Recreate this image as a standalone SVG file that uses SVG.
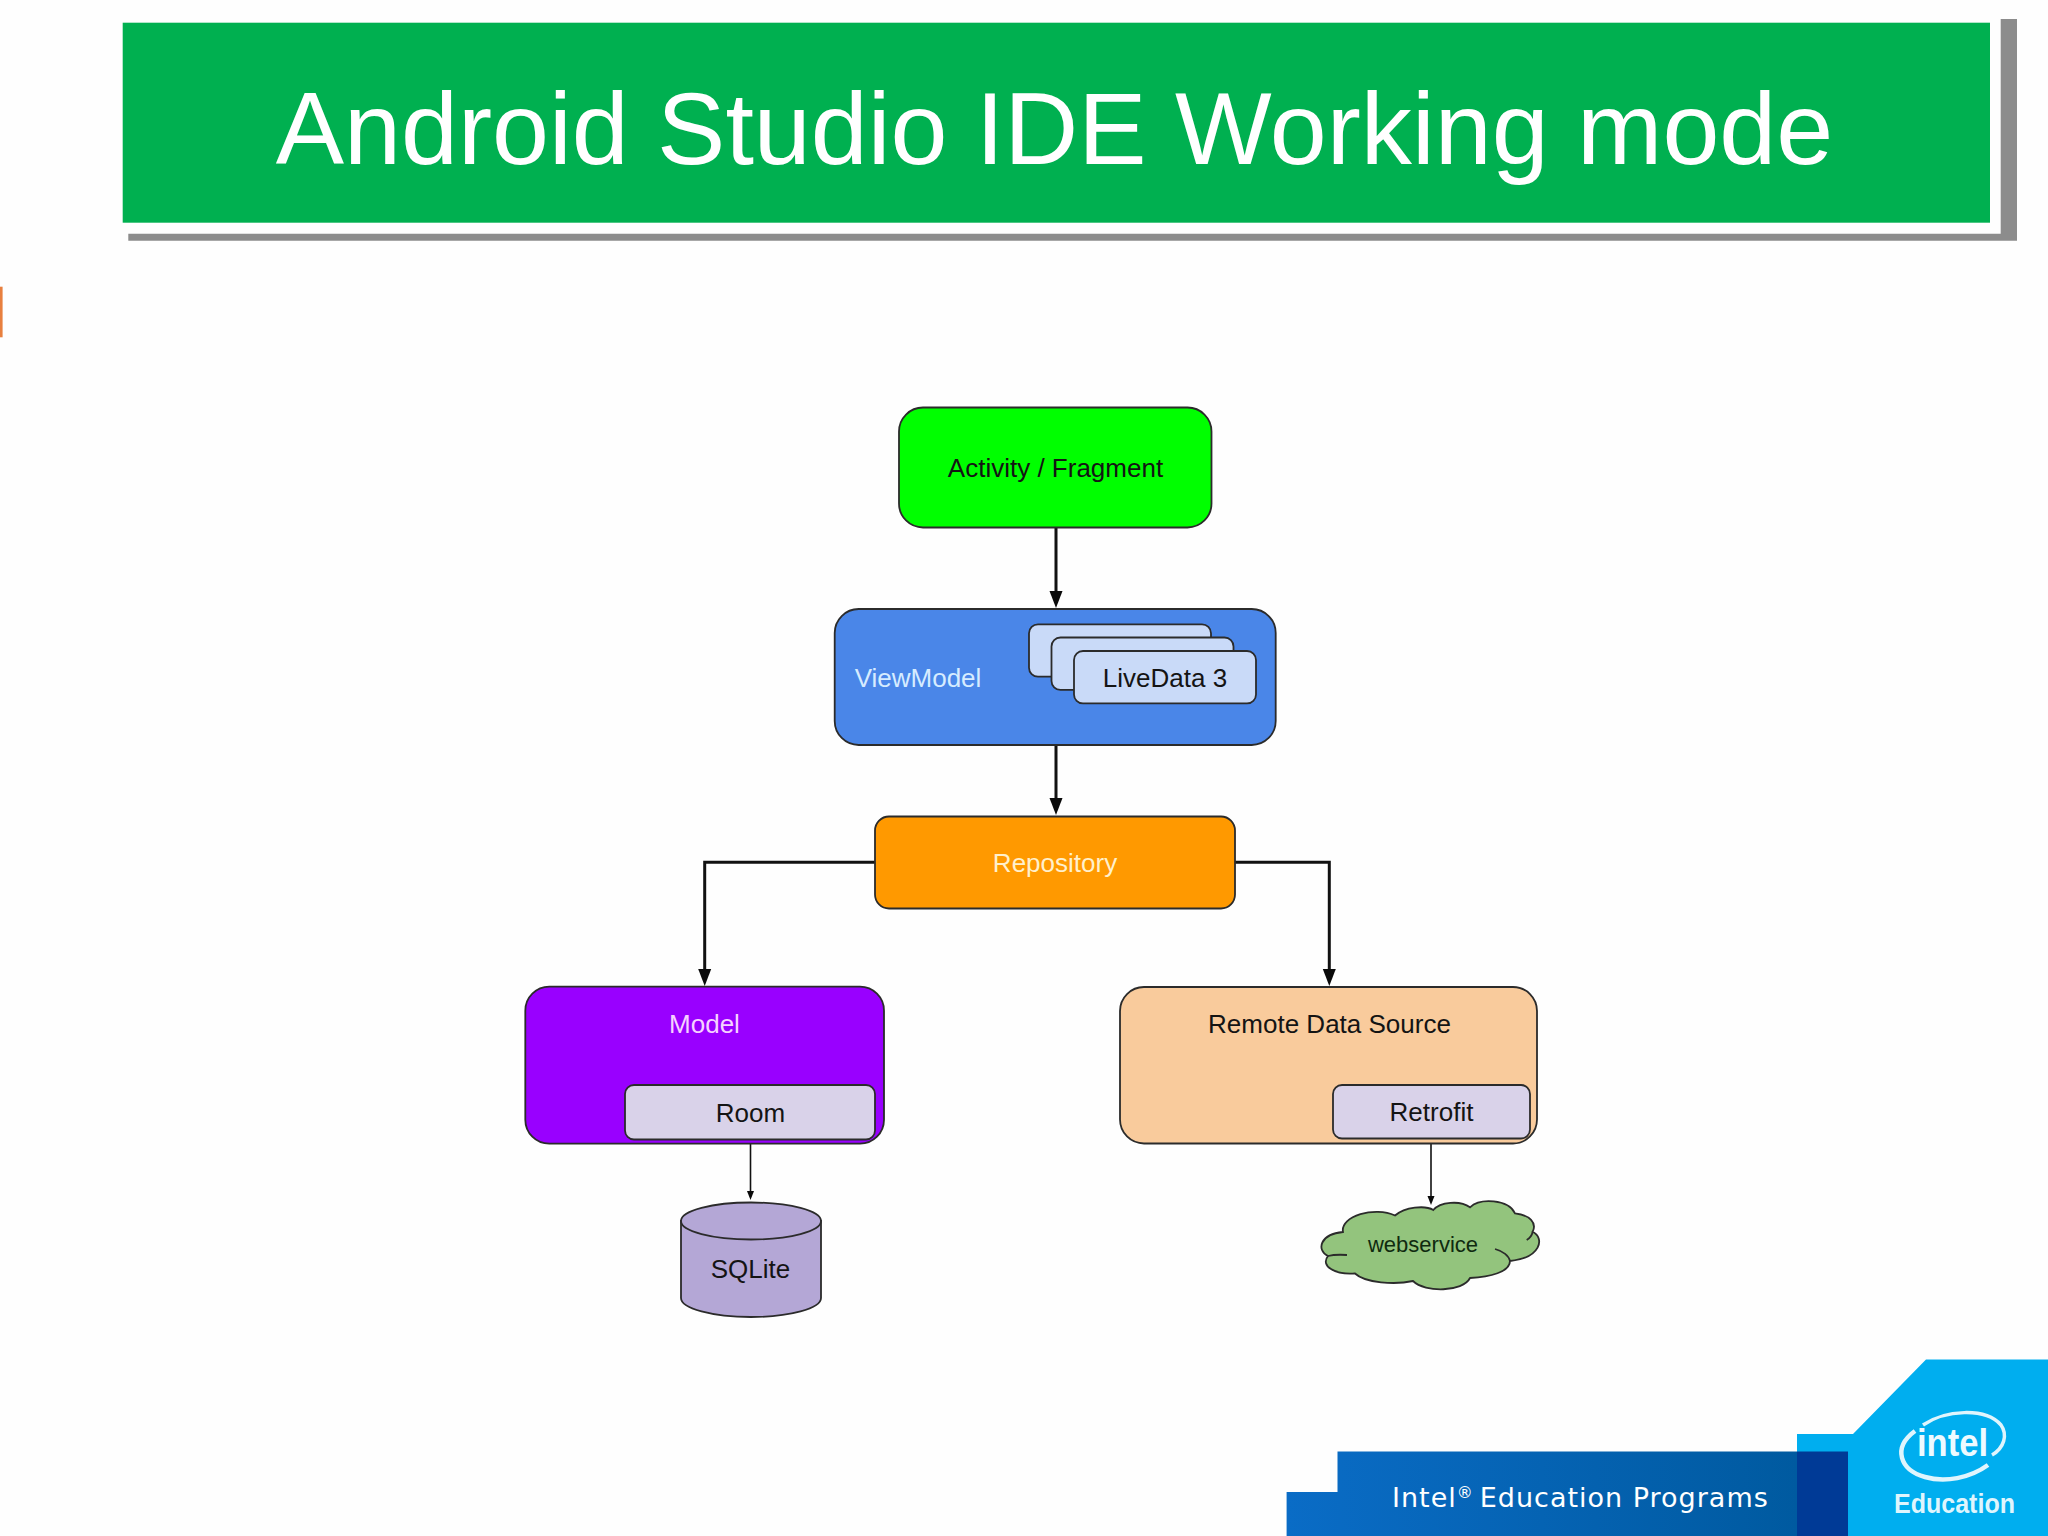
<svg xmlns="http://www.w3.org/2000/svg" width="2048" height="1536" viewBox="0 0 2048 1536">
  <style>
    .t { font-family: "Liberation Sans", Arial, sans-serif; font-size: 26px; text-anchor: middle; fill: #141414; }
    .box { stroke: #2b2b2b; stroke-width: 1.800; }
    .conn { fill: none; stroke: #111; stroke-width: 3; }
    .thin { fill: none; stroke: #111; stroke-width: 1.600; }
  </style>
  <defs>
    <marker id="big" markerUnits="userSpaceOnUse" markerWidth="17" markerHeight="14" refX="9" refY="7" orient="auto">
      <path d="M0 .5L17 7L0 13.500Z" fill="#0a0a0a"/>
    </marker>
    <marker id="small" markerUnits="userSpaceOnUse" markerWidth="9" markerHeight="8" refX="5" refY="4" orient="auto">
      <path d="M0 .5L9 4L0 7.500Z" fill="#0a0a0a"/>
    </marker>
    <linearGradient id="band" x1="0" x2="1" y1="0" y2="0">
      <stop offset="0" stop-color="#0a6cc6"/>
      <stop offset="1" stop-color="#005aa0"/>
    </linearGradient>
  </defs>
  <rect width="2048" height="1536" fill="#fefefe"/>

  <g id="title-bar">
    <path d="M2000.700 19H2017V240.700H128.300V233.800H2000.700Z" fill="#8c8c8c"/>
    <rect x="122.700" y="22.700" width="1867.300" height="200" fill="#00b050"/>
    <text x="1054.500" y="164" font-family="'Liberation Sans', Arial, sans-serif" font-size="102.400" text-anchor="middle" fill="#fff">Android Studio IDE Working mode</text>
  </g>
  <rect id="edge-mark" x="0" y="286.700" width="2.600" height="50.600" fill="#e8803f"/>

  <g id="connectors">
    <path class="conn" d="M1056 527V600" marker-end="url(#big)"/>
    <path class="conn" d="M1056 745V807" marker-end="url(#big)"/>
    <path class="conn" d="M875 862.300H704.700V978" marker-end="url(#big)"/>
    <path class="conn" d="M1235 862.300H1329.300V978" marker-end="url(#big)"/>
    <path class="thin" d="M750.500 1140V1196" marker-end="url(#small)"/>
    <path class="thin" d="M1431 1139V1201" marker-end="url(#small)"/>
  </g>

  <g id="activity">
    <rect class="box" x="899" y="407.500" width="312.500" height="120" rx="24" fill="#00ff00"/>
    <text class="t" x="1055.500" y="477">Activity / Fragment</text>
  </g>
  <g id="viewmodel">
    <rect class="box" x="834.700" y="609" width="441" height="136" rx="24" fill="#4a86e8"/>
    <text class="t" x="918" y="686.700" style="fill:#d6ecff">ViewModel</text>
    <rect class="box" x="1029" y="624.300" width="182" height="52.400" rx="9" fill="#c9daf8"/>
    <rect class="box" x="1051.500" y="637.500" width="182" height="52.400" rx="9" fill="#c9daf8"/>
    <rect class="box" x="1074" y="651" width="182" height="52.400" rx="9" fill="#c9daf8"/>
    <text class="t" x="1165" y="686.700">LiveData 3</text>
  </g>
  <g id="repository">
    <rect class="box" x="875" y="816.500" width="360" height="92" rx="14" fill="#ff9900"/>
    <text class="t" x="1055" y="872.300" style="fill:#fff0cc">Repository</text>
  </g>
  <g id="model">
    <rect class="box" x="525.300" y="986.700" width="358.700" height="157" rx="24" fill="#9900ff"/>
    <text class="t" x="704.500" y="1032.700" style="fill:#f6d2ff">Model</text>
    <rect class="box" x="625" y="1085" width="250" height="54.500" rx="9" fill="#d9d2e9"/>
    <text class="t" x="750.500" y="1122">Room</text>
  </g>
  <g id="remote">
    <rect class="box" x="1120" y="987" width="417" height="156.500" rx="24" fill="#f9cb9c"/>
    <text class="t" x="1329.500" y="1032.700">Remote Data Source</text>
    <rect class="box" x="1333" y="1085" width="197" height="53.500" rx="9" fill="#d9d2e9"/>
    <text class="t" x="1431.500" y="1120.500">Retrofit</text>
  </g>
  <g id="sqlite">
    <path class="box" d="M681 1221V1298A70 19 0 0 0 821 1298V1221Z" fill="#b4a7d6"/>
    <ellipse class="box" cx="751" cy="1221" rx="70" ry="18.500" fill="#b4a7d6"/>
    <text class="t" x="750.500" y="1278">SQLite</text>
  </g>
  <g id="webservice">
    <path class="box" d="M1433.300 1210C1440 1202 1460 1200 1470 1207.300C1480 1198 1508 1199 1515 1213.300C1530 1215 1537 1223 1532.700 1231.700C1545 1238 1541 1258 1510 1261C1510 1272 1490 1277 1470 1278C1463 1292 1425 1293 1413 1281C1395 1285 1365 1283 1355 1273.500C1335 1275 1320 1266 1328 1256C1316 1250 1320 1234 1343 1232C1340 1216 1375 1206 1395 1215.500C1405 1207 1425 1205 1433.300 1210Z" fill="#93c47d"/>
    <path d="M1495 1249C1503 1251 1509 1256 1510 1261M1328 1256C1334 1254.500 1340 1254.500 1347 1255M1532.700 1231.700C1532 1235 1530 1238 1526.700 1240" fill="none" stroke="#2b2b2b" stroke-width="1.800"/>
    <text class="t" x="1423" y="1252" style="font-size:22px;fill:#0f2a0f">webservice</text>
  </g>

  <g id="footer">
    <path d="M1797 1536V1434H1853L1926 1359.500H2048V1536Z" fill="#00aeef"/>
    <path d="M1286.600 1536V1492H1337.500V1451.500H1797V1536Z" fill="url(#band)"/>
    <rect x="1797" y="1451.500" width="51" height="84.500" fill="#003a96"/>
    <text x="1392" y="1507" font-family="'DejaVu Sans', Verdana, sans-serif" font-size="27" fill="#fff" letter-spacing="1">Intel<tspan font-size="16" dy="-9">®</tspan><tspan dy="9" dx="6">Education Programs</tspan></text>
    <path d="M1915 1431C1892 1448 1900 1470 1925 1477C1945 1483 1970 1478 1988 1465" fill="none" stroke="#dff5fd" stroke-width="4.500"/>
    <path d="M1923 1425C1945 1410 1985 1407 2001 1425C2008 1435 2004 1448 1992 1455" fill="none" stroke="#dff5fd" stroke-width="3.500"/>
    <text x="1917" y="1456" font-family="'Liberation Sans', Arial, sans-serif" font-weight="700" font-size="39" fill="#eefaff" textLength="71" lengthAdjust="spacingAndGlyphs">intel</text>
    <text x="1894" y="1512.700" font-family="'Liberation Sans', Arial, sans-serif" font-weight="700" font-size="27" fill="#dff5fd" textLength="121" lengthAdjust="spacingAndGlyphs">Education</text>
  </g>
</svg>
